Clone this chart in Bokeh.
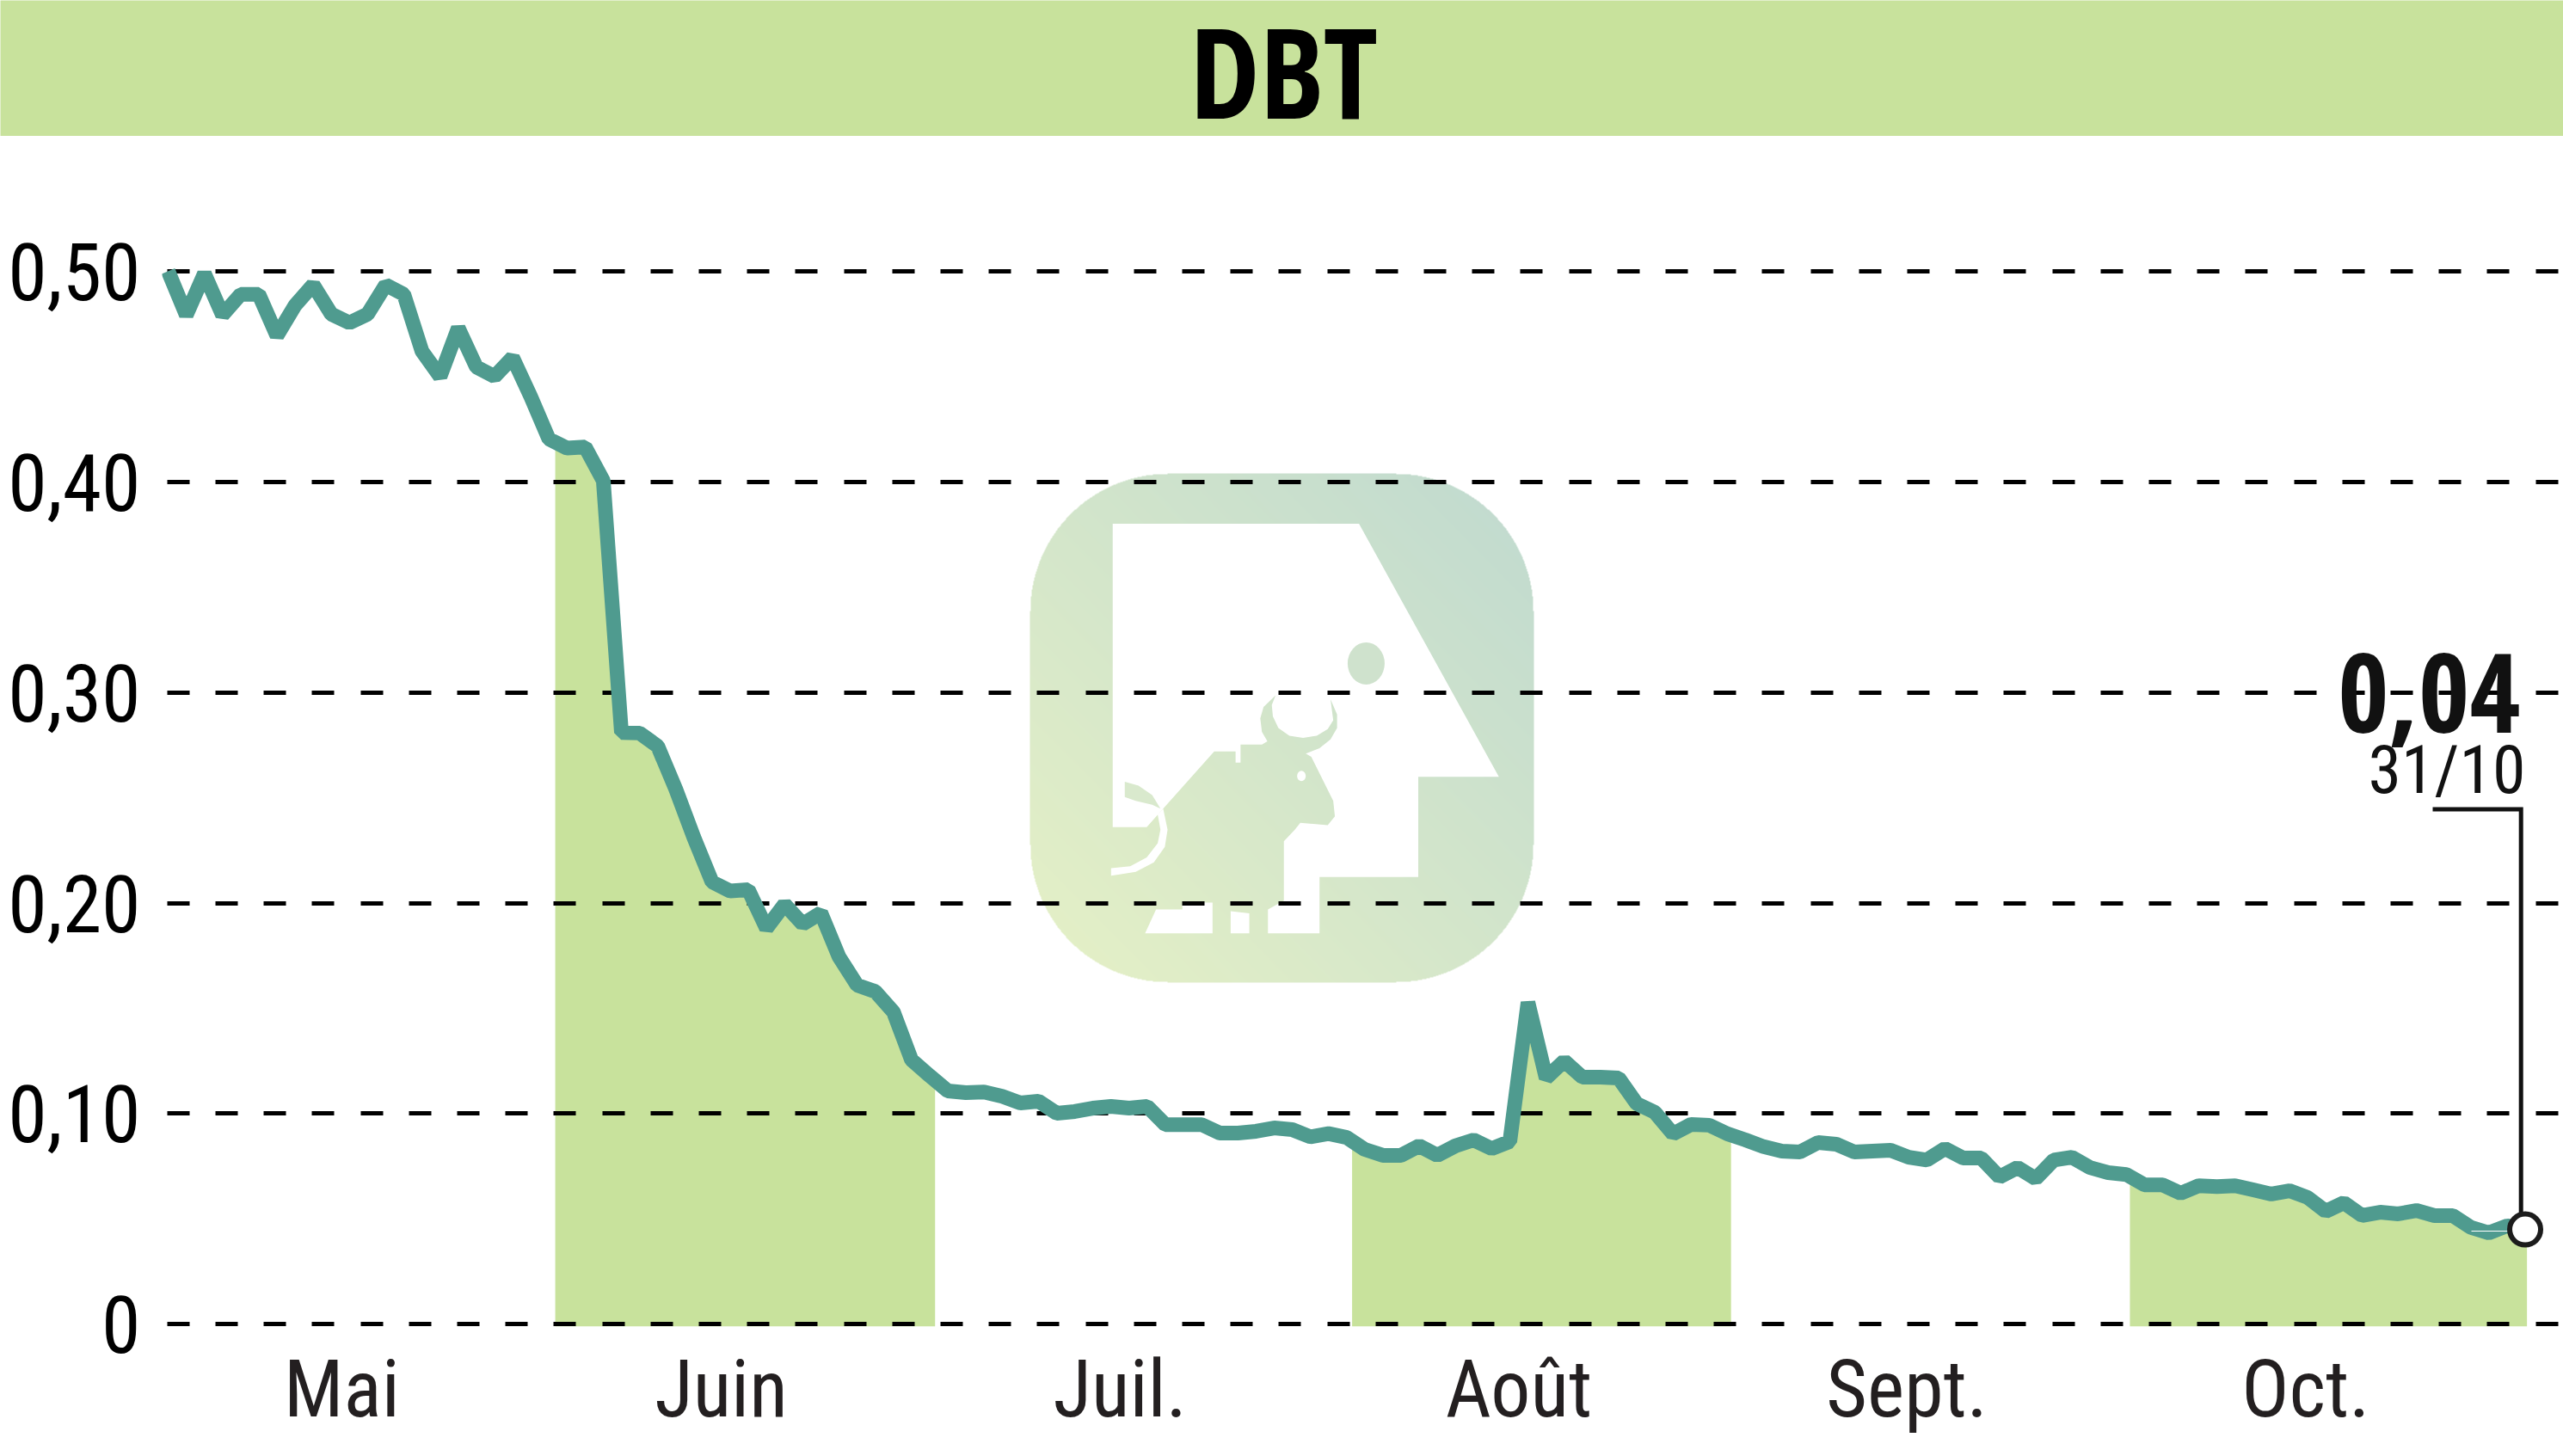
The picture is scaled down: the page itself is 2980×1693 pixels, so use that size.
import numpy as np
from bokeh.plotting import figure
from bokeh.layouts import column
from bokeh.models import Range1d, FixedTicker
from bokeh.core.properties import value
from bokeh.embed import file_html
from bokeh.resources import INLINE

TITLE = "DBT"
LAST_VALUE = "0,04"
LAST_DATE = "31/10"
FONT = "Roboto Condensed"
BOLD_FONT = "Open Sans Condensed"
HEADER_COLOR = "#c8e29c"
LINE_COLOR = "#4f9b8f"

prices = [
    0.5000, 0.4792, 0.4988, 0.4792, 0.4890, 0.4890, 0.4694, 0.4837, 0.4935, 0.4796, 0.4755,
    0.4796, 0.4935, 0.4890, 0.4620, 0.4500, 0.4730, 0.4545, 0.4500, 0.4590, 0.4404,
    0.4203, 0.4160, 0.4165, 0.4005, 0.2810, 0.2807, 0.2745, 0.2540, 0.2310, 0.2100,
    0.2057, 0.2063, 0.1880, 0.1994, 0.1900, 0.1953, 0.1745, 0.1610, 0.1580, 0.1483,
    0.1255, 0.1180, 0.1108, 0.1100, 0.1103, 0.1082, 0.1051, 0.1059, 0.1002, 0.1010,
    0.1026, 0.1034, 0.1026, 0.1034, 0.0948, 0.0948, 0.0948, 0.0908, 0.0908, 0.0916,
    0.0932, 0.0924, 0.0890, 0.0905, 0.0887, 0.0830, 0.0802, 0.0802, 0.0847, 0.0802,
    0.0847, 0.0875, 0.0834, 0.0868, 0.1528, 0.1169, 0.1250, 0.1173, 0.1173, 0.1169,
    0.1047, 0.1006, 0.0904, 0.0949, 0.0945, 0.0904, 0.0875, 0.0843, 0.0822, 0.0818,
    0.0863, 0.0855, 0.0818, 0.0822, 0.0826, 0.0793, 0.0780, 0.0834, 0.0789, 0.0789,
    0.0699, 0.0744, 0.0691, 0.0780, 0.0793, 0.0744, 0.0720, 0.0711, 0.0662, 0.0662,
    0.0622, 0.0658, 0.0654, 0.0658, 0.0638, 0.0618, 0.0634, 0.0602, 0.0536, 0.0577,
    0.0516, 0.0532, 0.0524, 0.0540, 0.0516, 0.0516, 0.0460, 0.0434, 0.0467, 0.0450,
]
days = list(range(len(prices)))

month_labels = ["Mai", "Juin", "Juil.", "Août", "Sept.", "Oct."]
month_centers = [9.58, 30.5, 52.5, 74.5, 95.9, 117.9]
month_bands = [(21.35, 42.3), (65.3, 86.2), (108.2, 130.1)]
y_ticks = [0, 0.1, 0.2, 0.3, 0.4, 0.5]
y_labels = ["0", "0,10", "0,20", "0,30", "0,40", "0,50"]

# ---------- header ----------
header = figure(width=2980, height=158, x_range=Range1d(0, 2980), y_range=Range1d(158, 0),
                x_axis_location=None, y_axis_location=None, frame_align=False,
                output_backend="svg", toolbar_location=None, min_border=0,
                background_fill_color=HEADER_COLOR, border_fill_color=HEADER_COLOR,
                outline_line_color=None)
header.grid.visible = False
header.text(x=[1492], y=[81], text=[TITLE], text_font=value(BOLD_FONT), text_font_style="bold",
            text_font_size="146px", text_align="center", text_baseline="alphabetic", text_color="#000000")

# ---------- chart ----------
p = figure(width=2980, height=1535, x_range=Range1d(-0.332, 132.11), y_range=Range1d(-0.00845, 0.56403),
           frame_align=False,
           output_backend="svg", toolbar_location=None, outline_line_color=None,
           min_border_left=188, min_border_right=0, min_border_top=0, min_border_bottom=133)
p.extra_x_ranges = {"px": Range1d(188, 2980)}
p.extra_y_ranges = {"px": Range1d(1560, 158)}
px = dict(x_range_name="px", y_range_name="px")

p.xgrid.visible = False
p.ygrid.ticker = FixedTicker(ticks=y_ticks)
p.ygrid.grid_line_color = "#000000"
p.ygrid.grid_line_width = 5
p.ygrid.grid_line_dash = "26 30 26 30 26 30 26 30 26 31"
p.ygrid.grid_line_dash_offset = 50

p.xaxis.ticker = FixedTicker(ticks=month_centers)
p.xaxis.major_label_overrides = dict(zip(month_centers, month_labels))
p.yaxis.ticker = FixedTicker(ticks=y_ticks)
p.yaxis.major_label_overrides = dict(zip(y_ticks, y_labels))
for ax in (p.xaxis, p.yaxis):
    ax.axis_line_color = None
    ax.major_tick_line_color = None
    ax.minor_tick_line_color = None
    ax.major_tick_out = 0
    ax.major_tick_in = 0
    ax.minor_tick_out = 0
    ax.minor_tick_in = 0
    ax.major_label_text_font = FONT
    ax.major_label_text_font_size = "92px"
p.xaxis.major_label_text_color = "#231f20"
p.yaxis.major_label_text_color = "#000000"
p.yaxis.major_label_standoff = 25
p.xaxis.major_label_standoff = 1

# watermark logo: rounded square with diagonal gradient
L, T, W, H = 1197, 550, 586, 592
yy, xx = np.mgrid[0:H, 0:W]
u = (xx + 0.5) / W
v = (yy + 0.5) / H
t = np.clip((u + (1 - v)) / 2, 0, 1)[..., None]
c0 = np.array([230, 241, 198])
c1 = np.array([192, 218, 208])
rgb = c0 + (c1 - c0) * t
r = 160
dx = np.maximum(np.maximum(r - xx, xx - (W - 1 - r)), 0)
dy = np.maximum(np.maximum(r - yy, yy - (H - 1 - r)), 0)
inside = dx * dx + dy * dy <= r * r
img = np.zeros((H, W), dtype=np.uint32)
view = img.view(dtype=np.uint8).reshape((H, W, 4))
view[..., :3] = rgb.astype(np.uint8)
view[..., 3] = inside * 255
p.image_rgba(image=[img], x=[L], y=[T], dw=[W], dh=[H], level="image", **px)

def zx(X): return [1100 + a * 0.6378 for a in X]
def zy(Y): return [500 + a * 0.4464 for a in Y]

house_X = [303, 752, 1007, 860, 860, 680, 680, 586, 586, 615, 615, 635, 645, 695, 708, 705, 665, 655,
           680, 700, 712, 712, 700, 705, 695, 675, 650, 625, 605, 595, 593, 600,
           578, 572, 575, 585, 575, 536, 536, 527, 527, 488, 395, 365, 303]
house_Y = [243, 243, 902, 902, 1163, 1163, 1310, 1310, 1248, 1225, 1070, 1040, 1022, 1028, 1005, 965, 850, 842,
           828, 805, 775, 740, 700, 755, 778, 795, 801, 795, 775, 745, 715, 690,
           720, 750, 785, 810, 818, 818, 865, 865, 836, 836, 985, 1033, 1033]
p.patch(zx(house_X), zy(house_Y), fill_color="#ffffff", line_color=None, level="image", **px)
for X, Y in [([518, 552, 552, 518], [1252, 1258, 1310, 1310]),
             ([362, 485, 485, 430, 430, 382], [1310, 1310, 1230, 1230, 1248, 1248]),
             ([300, 335, 365, 385, 390, 385, 395, 403, 398, 378, 345, 300],
              [1140, 1135, 1112, 1075, 1040, 1000, 985, 1040, 1085, 1125, 1150, 1160])]:
    p.patch(zx(X), zy(Y), fill_color="#ffffff", line_color=None, level="image", **px)
p.patch(zx([325, 350, 375, 390, 375, 345, 325]), zy([915, 925, 950, 985, 975, 965, 955]),
        fill_color="#d9e9cd", line_color=None, level="image", **px)
p.ellipse(x=zx([765]), y=zy([607]), width=[43], height=[49], fill_color="#cfe2cd", line_color=None, level="image", **px)
p.ellipse(x=zx([647]), y=zy([900]), width=[10], height=[12], fill_color="#ffffff", line_color=None, level="image", **px)

# shaded alternate months
for a, b in month_bands:
    xs = [a] + [d for d in days if a < d < b] + [b]
    ys = np.interp(xs, days, prices)
    p.varea(x=xs, y1=[-0.001] * len(xs), y2=ys, fill_color=HEADER_COLOR, level="image")

# price line
p.line(days, prices, line_color=LINE_COLOR, line_width=17, line_join="bevel", line_cap="butt")

# callout
p.line([2873, 2916], [1431, 1431], line_color="#ffffff", line_width=1, **px)
p.line([2828, 2930.7, 2930.7], [940.6, 940.6, 1415], line_color="#111111", line_width=5, line_join="miter", **px)
p.scatter([days[-1]], [prices[-1]], size=36, fill_color="#ffffff", line_color="#1c1c1c", line_width=6)
p.text(x=[2930], y=[805], text=[LAST_VALUE], text_font=value(BOLD_FONT), text_font_style="bold",
       text_font_size="128px", text_align="right", text_baseline="alphabetic", text_color="#111111", **px)
p.text(x=[2936], y=[895], text=[LAST_DATE], text_font=value(FONT),
       text_font_size="78px", text_align="right", text_baseline="alphabetic", text_color="#111111", **px)

page = column(header, p, spacing=0)
page.styles = {"position": "absolute", "left": "0px", "top": "0px"}
open("out.html", "w").write(file_html(page, INLINE))
